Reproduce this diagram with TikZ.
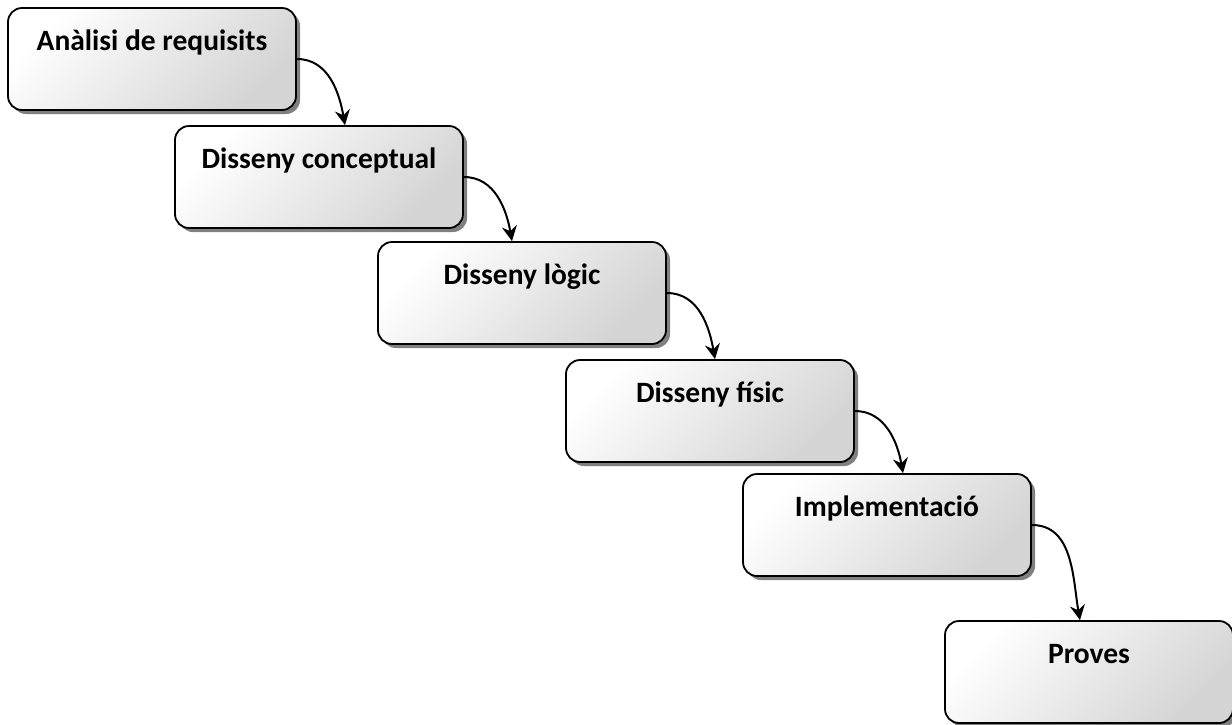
\documentclass[tikz,border=0pt]{standalone}
\usepackage{fontspec}
\setmainfont{Carlito}
\usetikzlibrary{arrows.meta, positioning, shadows}

\begin{document}
\begin{tikzpicture}[
    x=1pt, y=-1pt,
    phase/.style={rectangle, rounded corners=14pt, minimum width=288pt, inner sep=0pt, text height=42pt, text depth=60pt, draw=black, line width=1.8pt, top color=white, bottom color=black!17, shading angle=45, drop shadow={shadow xshift=4pt, shadow yshift=-4pt, fill=black!50, opacity=1}, font=\fontsize{29.5}{34}\selectfont\bfseries},
    arrow/.style={-{Stealth[length=15pt, width=15pt, inset=5pt]}, line width=2pt}
]
\useasboundingbox (0,0) rectangle (1232,724);

% Phases
\node[phase] (req) at (152, 59) {Anàlisi de requisits};
\node[phase] (conc) at (319, 177) {Disseny conceptual};
\node[phase] (logic) at (522, 293) {Disseny lògic};
\node[phase] (phys) at (710, 411) {Disseny físic};
\node[phase] (impl) at (887, 525) {Implementació};
\node[phase] (test) at (1089, 672) {Proves};

% Arrows
\draw[arrow] (req.east) to[out=0, in=100] ([xshift=26pt]conc.north);
\draw[arrow] (conc.east) to[out=0, in=100] ([xshift=-10pt]logic.north);
\draw[arrow] (logic.east) to[out=0, in=100] ([xshift=5pt]phys.north);
\draw[arrow] (phys.east) to[out=0, in=100] ([xshift=16pt]impl.north);
\draw[arrow] (impl.east) to[out=0, in=100] ([xshift=-9pt]test.north);

\end{tikzpicture}
\end{document}
